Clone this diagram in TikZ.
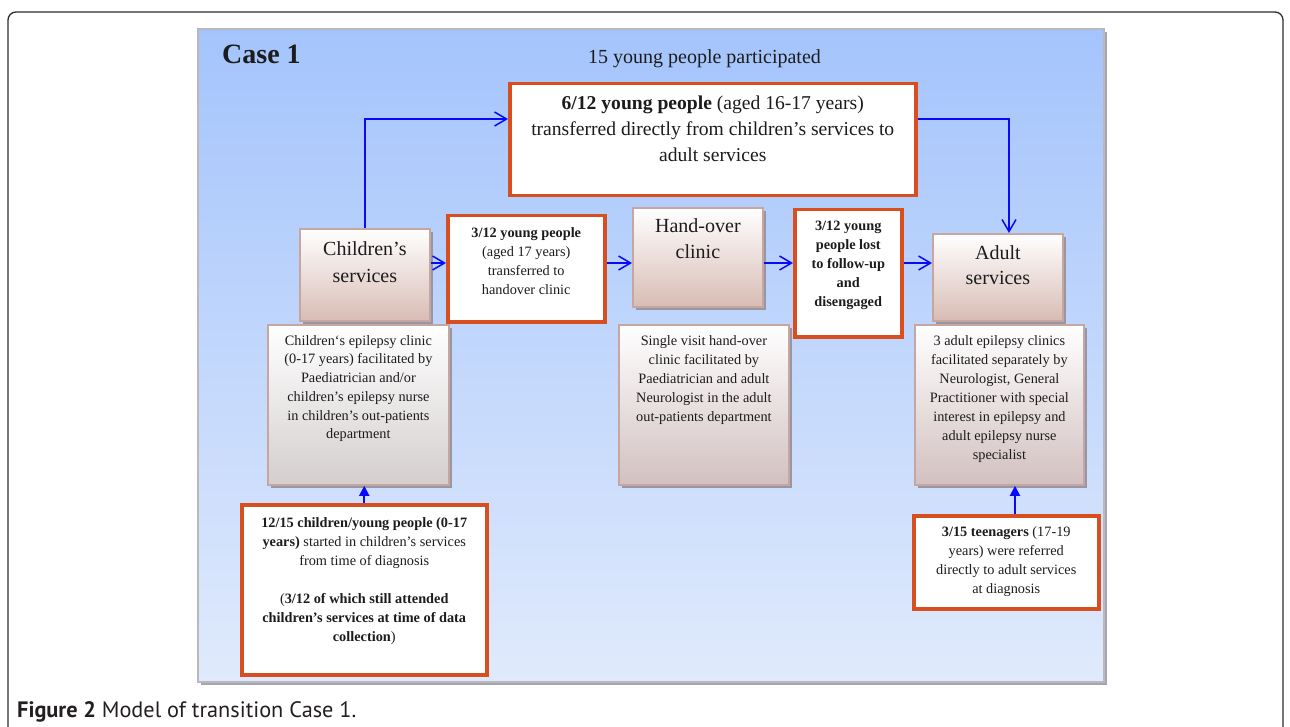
\documentclass[tikz,border=0pt]{standalone}
\usepackage{fontspec}
\setmainfont{Liberation Serif}
\newfontfamily\capfont{PT Sans}
\usetikzlibrary{arrows.meta,shadows}
\definecolor{orng}{RGB}{216,78,30}
\definecolor{panTop}{RGB}{164,196,252}
\definecolor{panBot}{RGB}{224,234,252}
\definecolor{panEdge}{RGB}{184,184,190}
\definecolor{panShadow}{RGB}{165,165,172}
\definecolor{svcBot}{RGB}{216,188,180}
\definecolor{svcEdge}{RGB}{200,166,160}
\definecolor{descBot}{RGB}{210,192,192}
\definecolor{greyBot}{RGB}{212,206,206}
\definecolor{boxShadow}{RGB}{150,150,165}
\definecolor{arrblue}{RGB}{10,10,250}
\definecolor{ink}{RGB}{28,28,28}
\definecolor{frameInk}{RGB}{45,45,45}
\newcommand\fsm{\fontsize{14.3}{19}\selectfont}
\newcommand\fbig{\fontsize{20}{26}\selectfont}
\newcommand\ssm{\rule{0pt}{12pt}}
\newcommand\sbig{\rule{0pt}{16pt}}
\begin{document}
\begin{tikzpicture}[x=1pt,y=-1pt,
  every node/.style={text=ink},
  svcbox/.style={draw=svcEdge, line width=1.8pt, top color=white, bottom color=svcBot,
    general shadow={fill=boxShadow, shadow xshift=3pt, shadow yshift=-3pt},
    anchor=north west, inner sep=0pt},
  descbox/.style={svcbox, bottom color=descBot},
  greybox/.style={svcbox, bottom color=greyBot},
  obox/.style={draw=orng, line width=3.5pt, fill=white, anchor=north west, inner sep=0pt},
  lbl/.style={anchor=north, align=center, inner sep=0pt},
  barb/.style={draw=arrblue, line width=1.5pt, -{Straight Barb[length=12pt,width=14pt,line width=1.5pt]}},
  uparr/.style={draw=arrblue, line width=2pt, -{Triangle[length=10pt,width=10pt]}}
]
\useasboundingbox (0,0) rectangle (1290,727);
\clip (0,0) rectangle (1290,727);
\fill[white] (0,0) rectangle (1290,727);

% outer frame
\draw[frameInk, line width=1.3pt, rounded corners=8pt] (8,780) -- (8,12) -- (1283,12) -- (1283,780);

% panel
\path[draw=panEdge, line width=1.5pt, top color=panTop, bottom color=panBot,
  general shadow={fill=panShadow, shadow xshift=3pt, shadow yshift=-3pt}]
  (198,29) rectangle (1104,682);

\node[anchor=base west, inner sep=0pt, font=\bfseries\fontsize{28}{30}\selectfont] (title) at (222,64) {Case 1};
\node[anchor=base, inner sep=0pt, font=\fbig] (sub) at (704.5,64) {15 young people participated};

% boxes
\node[obox, minimum width=406pt, minimum height=112pt] (tb) at (508,82) {};
\node[svcbox, minimum width=130pt, minimum height=92pt] (cs) at (299,228) {};
\node[obox, minimum width=157pt, minimum height=106pt] (tw) at (446,214) {};
\node[svcbox, minimum width=130pt, minimum height=99pt] (ho) at (632,207) {};
\node[obox, minimum width=107pt, minimum height=127pt] (lost) at (793,208) {};
\node[svcbox, minimum width=130pt, minimum height=87pt] (as) at (932,233) {};
\node[greybox, minimum width=181pt, minimum height=160pt] (ce) at (267,324) {};
\node[descbox, minimum width=170pt, minimum height=160pt] (sv) at (618,324) {};
\node[descbox, minimum width=169pt, minimum height=160pt] (ad) at (914,324) {};
\node[obox, minimum width=245pt, minimum height=170pt] (bx) at (240,503) {};
\node[obox, minimum width=185pt, minimum height=93pt] (tn) at (912,514) {};

% texts
\node[lbl, font=\fontsize{19.6}{26}\selectfont] (tbt) at ([yshift=-11pt]tb.north)
  {\sbig\textbf{6/12 young people} (aged 16-17 years)\\transferred directly from children’s services to\\adult services};
\node[lbl, font=\fontsize{20}{27}\selectfont] (cst) at ([yshift=-11pt]cs.north) {\sbig Children’s\\services};
\node[lbl, font=\fsm] (twt) at ([yshift=-11pt]tw.north)
  {\ssm\textbf{3/12 young people}\\(aged 17 years)\\transferred to\\handover clinic};
\node[lbl, font=\fbig] (hot) at ([yshift=-9pt]ho.north) {\sbig Hand-over\\clinic};
\node[lbl, font=\fsm\bfseries] (lostt) at ([yshift=-10pt]lost.north)
  {\ssm 3/12 young\\people lost\\to follow-up\\and\\disengaged};
\node[lbl, font=\fontsize{20}{25}\selectfont] (ast) at ([yshift=-10pt]as.north) {\sbig Adult\\services};
\node[lbl, font=\fontsize{14.3}{18.7}\selectfont] (cet) at ([yshift=-9pt]ce.north)
  {\ssm Children‘s epilepsy clinic\\(0-17 years) facilitated by\\Paediatrician and/or\\children’s epilepsy nurse\\in children’s out-patients\\department};
\node[lbl, font=\fsm] (svt) at ([yshift=-9pt]sv.north)
  {\ssm Single visit hand-over\\clinic facilitated by\\Paediatrician and adult\\Neurologist in the adult\\out-patients department};
\node[lbl, font=\fsm] (adt) at ([yshift=-9pt]ad.north)
  {\ssm 3 adult epilepsy clinics\\facilitated separately by\\Neurologist, General\\Practitioner with special\\interest in epilepsy and\\adult epilepsy nurse\\specialist};
\node[lbl, font=\fsm] (bxt) at ([yshift=-12pt]bx.north)
  {\ssm\textbf{12/15 children/young people (0-17}\\\textbf{years)} started in children’s services\\from time of diagnosis\\[19pt]
   (\textbf{3/12 of which still attended}\\\textbf{children’s services at time of data}\\\textbf{collection})};
\node[lbl, font=\fsm] (tnt) at ([yshift=-10pt]tn.north)
  {\ssm\textbf{3/15 teenagers} (17-19\\years) were referred\\directly to adult services\\at diagnosis};

% connectors
\coordinate (rowy) at (0,263);
\coordinate (topy) at (0,119);
\coordinate (downx) at (1009,0);
\coordinate (upx) at (1015,0);
\draw[barb] (cs.north) |- (tb.west |- topy);
\draw[barb] (tb.east |- topy) -| (downx |- as.north);
\draw[barb] (cs.east |- rowy) -- (tw.west |- rowy);
\draw[barb] (tw.east |- rowy) -- (ho.west |- rowy);
\draw[barb] (ho.east |- rowy) -- (lost.west |- rowy);
\draw[barb] (lost.east |- rowy) -- (as.west |- rowy);
\draw[uparr] (bx.north) -- (bx.north |- ce.south);
\draw[uparr] (upx |- tn.north) -- (upx |- ad.south);

% caption
\node[anchor=base west, inner sep=0pt, text={rgb,255:red,35;green,31;blue,32},
  font=\capfont\fontsize{22.3}{26}\selectfont] (cap) at (17,717) {\textbf{Figure 2} Model of transition Case 1.};
\end{tikzpicture}
\end{document}
